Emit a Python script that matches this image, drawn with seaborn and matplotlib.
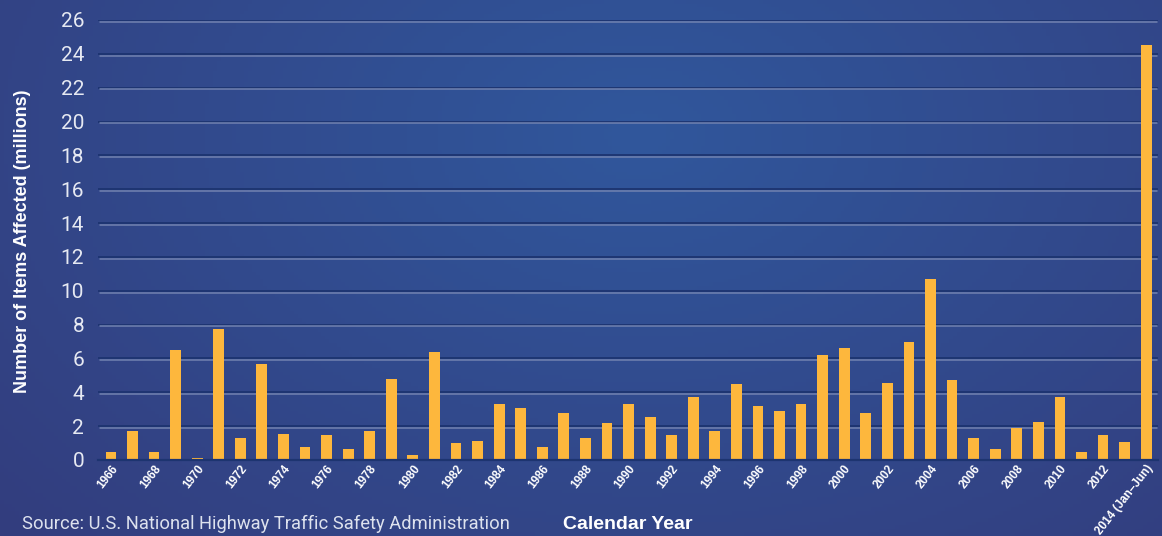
import numpy as np
import pandas as pd
import matplotlib
matplotlib.use('Agg')
import matplotlib.pyplot as plt
import matplotlib.transforms as mtransforms
import seaborn as sns

# Data (millions of items affected)
years = [str(y) for y in range(1966, 2014)] + ['2014 (Jan–Jun)']
items = [0.45, 1.7, 0.45, 6.5, 0.1, 7.75, 1.3, 5.65, 1.55, 0.75,
         1.45, 0.65, 1.7, 4.8, 0.3, 6.4, 1.0, 1.15, 3.3, 3.05,
         0.75, 2.75, 1.3, 2.2, 3.3, 2.55, 1.5, 3.7, 1.7, 4.5,
         3.2, 2.9, 3.3, 6.2, 6.6, 2.8, 4.55, 7.0, 10.7, 4.7,
         1.3, 0.65, 1.9, 2.25, 3.75, 0.45, 1.5, 1.05, 24.5]
yticks = list(range(0, 27, 2))

df = pd.DataFrame({'year': years, 'items': items})

sns.set_style('white')
plt.rcParams['font.family'] = ['Liberation Sans', 'DejaVu Sans']

fig = plt.figure(figsize=(11.62, 5.36), dpi=100)

# background gradient: brighter blue at upper centre, darker navy at edges
bg = fig.add_axes([0, 0, 1, 1], zorder=-10)
xx, yy = np.meshgrid(np.linspace(0, 1, 300), np.linspace(0, 1, 150))
d = np.sqrt(((xx - 0.55) / 0.75) ** 2 + ((yy - 0.25) / 1.1) ** 2)
d = np.clip(d, 0, 1)
c0 = np.array([0x30, 0x57, 0x9c]) / 255
c1 = np.array([0x33, 0x3d, 0x7e]) / 255
img = c0[None, None, :] * (1 - d[..., None]) + c1[None, None, :] * d[..., None]
bg.imshow(img, aspect='auto', extent=[0, 1, 0, 1], origin='upper')
bg.axis('off')

ax = fig.add_axes([0.0843, 0.1418, 0.9123, 0.8209])
ax.patch.set_alpha(0)

# grid: dark line with a lighter line just beneath
off = mtransforms.offset_copy(ax.transData, fig=fig, x=0, y=-1.3, units='points')
for v in yticks[1:]:
    ax.axhline(v, color='#1d3470', lw=1.3, zorder=0)
    ax.plot([-0.5, len(years) - 0.5], [v, v], color='#7182b0', lw=1.1,
            transform=off, zorder=0)

sns.barplot(data=df, x='year', y='items', order=years, color='#fdb73d',
            width=0.5, saturation=1, linewidth=0, edgecolor='none',
            ax=ax, zorder=2)

ax.set_xlim(-0.6, len(years) - 0.45)
ax.set_ylim(0, 26)
ax.set_yticks(yticks)
ax.set_yticklabels([str(v) for v in yticks], color='#e6e9f2', fontsize=15,
                   family=['Roboto', 'DejaVu Sans'])
ax.tick_params(axis='y', length=0, pad=10)

pos = list(range(0, len(years), 2))
ax.set_xticks(pos)
ax.set_xticklabels([years[i] for i in pos], rotation=52, ha='right',
                   rotation_mode='anchor', color='white', fontsize=8.5,
                   fontweight='bold')
ax.tick_params(axis='x', length=0, pad=2)
ax.set_xticks(np.arange(-0.5, len(years), 1), minor=True)
ax.tick_params(axis='x', which='minor', length=4, width=1.2, color='#1d3470',
               direction='out')

for s in ['top', 'right', 'left']:
    ax.spines[s].set_visible(False)
ax.spines['bottom'].set_color('#1d3470')
ax.spines['bottom'].set_linewidth(1.6)

ax.set_xlabel('')
ax.set_ylabel('')
fig.text(0.019, 0.55, 'Number of Items Affected (millions)', rotation=90,
         ha='center', va='center', color='white', fontsize=13, fontweight='bold')
fig.text(0.54, 0.022, 'Calendar Year', ha='center', va='center',
         color='white', fontsize=14, fontweight='bold')
fig.text(0.019, 0.022, 'Source: U.S. National Highway Traffic Safety Administration',
         ha='left', va='center', color='#dde2ee', fontsize=13.2,
         family=['Roboto', 'DejaVu Sans'])

fig.savefig('out.png', dpi=100)
